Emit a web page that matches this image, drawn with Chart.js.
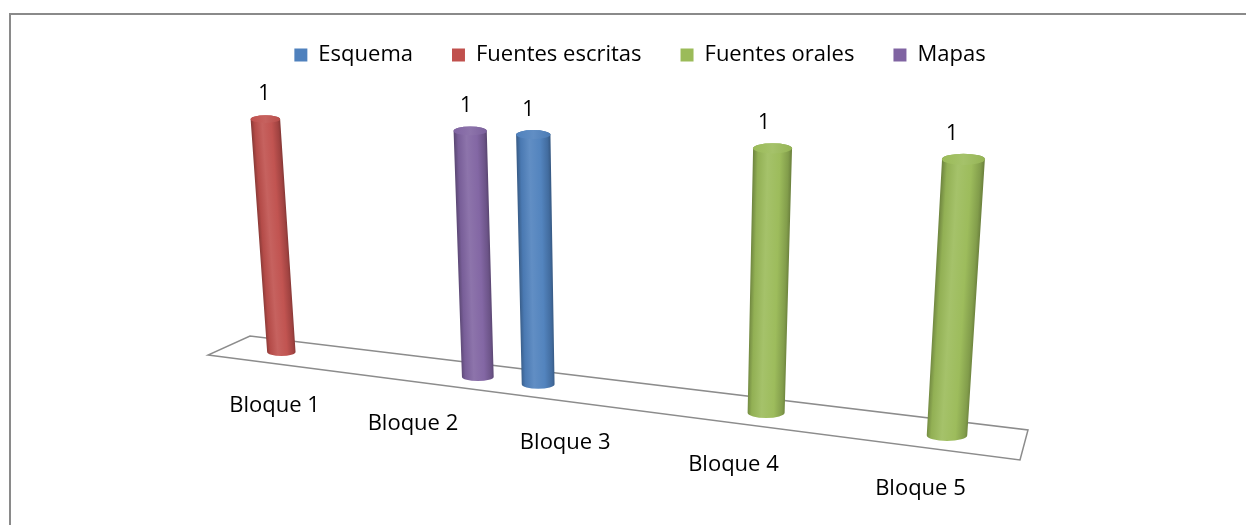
<!DOCTYPE html>
<html>
<head>
<meta charset="utf-8">
<script src="https://cdn.jsdelivr.net/npm/chart.js@4.4.0/dist/chart.umd.min.js"></script>
<style>
  html, body { margin: 0; padding: 0; background: #fff; overflow: hidden; }
  #wrap { position: relative; width: 1246px; height: 525px; }
</style>
</head>
<body>
<div id="wrap"><canvas id="chart"></canvas></div>
<script>
// data
var categories = ['Bloque 1', 'Bloque 2', 'Bloque 3', 'Bloque 4', 'Bloque 5'];
var seriesNames = ['Esquema', 'Fuentes escritas', 'Fuentes orales', 'Mapas'];
var esquema = [null, null, 1, null, null];
var fuentesEscritas = [1, null, null, null, null];
var fuentesOrales = [null, null, null, 1, 1];
var mapas = [null, 1, null, null, null];
var seriesColors = ['#4F81BD', '#C0504D', '#9BBB59', '#8064A2'];

var FONT = '"Open Sans", "DejaVu Sans", sans-serif';

// unit square -> quad (Heckbert). corners: (0,0), (1,0), (1,1), (0,1)
function quadMap(q) {
  var x0 = q[0][0], y0 = q[0][1], x1 = q[1][0], y1 = q[1][1];
  var x2 = q[2][0], y2 = q[2][1], x3 = q[3][0], y3 = q[3][1];
  var dx1 = x1 - x2, dx2 = x3 - x2, dx3 = x0 - x1 + x2 - x3;
  var dy1 = y1 - y2, dy2 = y3 - y2, dy3 = y0 - y1 + y2 - y3;
  var den = dx1 * dy2 - dx2 * dy1;
  var g = (dx3 * dy2 - dx2 * dy3) / den;
  var h = (dx1 * dy3 - dx3 * dy1) / den;
  var a = x1 - x0 + g * x1, b = x3 - x0 + h * x3, c = x0;
  var d = y1 - y0 + g * y1, e = y3 - y0 + h * y3, f = y0;
  return function(u, v) {
    var w = g * u + h * v + 1;
    return { x: (a * u + b * v + c) / w, y: (d * u + e * v + f) / w };
  };
}

// vertical plane through the middle of the floor (u along categories, v = value)
var plane = quadMap([[229, 345.5], [1024, 445], [1045, 164], [211, 116]]);
// floor (u along categories, w = depth, 0 front / 1 back)
var floor = quadMap([[208, 355], [1020, 460], [1028, 430], [250, 336]]);

function mix(hex, t) {
  // t < 0 darker, t > 0 lighter
  var n = parseInt(hex.slice(1), 16);
  var rgb = [(n >> 16) & 255, (n >> 8) & 255, n & 255].map(function(c) {
    return Math.round(t < 0 ? c * (1 + t) : c + (255 - c) * t);
  });
  return 'rgb(' + rgb.join(',') + ')';
}

function drawCylinder(ctx, color, pBL, pBR, pTL, pTR) {
  var bc = { x: (pBL.x + pBR.x) / 2, y: (pBL.y + pBR.y) / 2 };
  var tc = { x: (pTL.x + pTR.x) / 2, y: (pTL.y + pTR.y) / 2 };
  var brx = Math.abs(pBR.x - pBL.x) / 2, trx = Math.abs(pTR.x - pTL.x) / 2;
  var bry = brx * 0.28, trY = trx * 0.26;

  var ax = tc.x - bc.x, ay = tc.y - bc.y, len = Math.sqrt(ax * ax + ay * ay);
  var nx = -ay / len, ny = ax / len;
  if (nx < 0) { nx = -nx; ny = -ny; }
  var mx = (bc.x + tc.x) / 2, my = (bc.y + tc.y) / 2, r = (brx + trx) / 2;
  var grad = ctx.createLinearGradient(mx - nx * r, my - ny * r, mx + nx * r, my + ny * r);
  grad.addColorStop(0, mix(color, -0.28));
  grad.addColorStop(0.12, mix(color, -0.06));
  grad.addColorStop(0.38, mix(color, 0.1));
  grad.addColorStop(0.7, mix(color, 0.02));
  grad.addColorStop(0.92, mix(color, -0.16));
  grad.addColorStop(1, mix(color, -0.3));

  ctx.beginPath();
  ctx.moveTo(tc.x - trx, tc.y);
  ctx.lineTo(bc.x - brx, bc.y);
  ctx.ellipse(bc.x, bc.y, brx, bry, 0, Math.PI, 0, true);
  ctx.lineTo(tc.x + trx, tc.y);
  ctx.ellipse(tc.x, tc.y, trx, trY, 0, 0, Math.PI, true);
  ctx.closePath();
  ctx.fillStyle = grad;
  ctx.fill();

  var capGrad = ctx.createLinearGradient(tc.x - trx, tc.y, tc.x + trx, tc.y);
  capGrad.addColorStop(0, mix(color, 0.0));
  capGrad.addColorStop(0.5, mix(color, 0.1));
  capGrad.addColorStop(1, mix(color, -0.04));
  ctx.beginPath();
  ctx.ellipse(tc.x, tc.y, trx, trY, 0, 0, Math.PI * 2);
  ctx.fillStyle = capGrad;
  ctx.fill();
}

var perspectivePlugin = {
  id: 'perspective',
  beforeDraw: function(chart) {
    var ctx = chart.ctx;
    ctx.save();
    ctx.fillStyle = '#fff';
    ctx.fillRect(0, 0, chart.width, chart.height);
    // chart frame (only the top and left edges fall inside the picture)
    ctx.strokeStyle = '#8a8a8a';
    ctx.lineWidth = 2;
    ctx.strokeRect(10, 14, 1400, 700);
    ctx.restore();
  },
  beforeDatasetsDraw: function(chart) {
    var ctx = chart.ctx;
    var area = chart.chartArea;
    var xScale = chart.scales.x, yScale = chart.scales.y;
    var y0 = yScale.getPixelForValue(0), y1 = yScale.getPixelForValue(1);
    var W = area.right - area.left;
    function U(px) { return (px - area.left) / W; }
    function V(py) { return (y0 - py) / (y0 - y1); }

    ctx.save();
    // floor
    var c = [floor(0, 0), floor(1, 0), floor(1, 1), floor(0, 1)];
    ctx.beginPath();
    ctx.moveTo(c[0].x, c[0].y);
    for (var k = 1; k < 4; k++) ctx.lineTo(c[k].x, c[k].y);
    ctx.closePath();
    ctx.strokeStyle = '#8c8c8c';
    ctx.lineWidth = 1.5;
    ctx.stroke();

    // category labels under the front edge
    ctx.fillStyle = '#000';
    ctx.font = '22px ' + FONT;
    ctx.textAlign = 'center';
    ctx.textBaseline = 'middle';
    categories.forEach(function(lbl, i) {
      var p = floor(U(xScale.getPixelForValue(i)), 0);
      ctx.fillText(lbl, p.x + 2, p.y + 42);
    });

    // cylinders + value labels
    chart.data.datasets.forEach(function(ds, di) {
      var meta = chart.getDatasetMeta(di);
      meta.data.forEach(function(bar, i) {
        var val = ds.data[i];
        if (val === null || val === undefined) return;
        var p = bar.getProps(['x', 'y', 'width', 'base'], true);
        var uL = U(p.x - p.width / 2), uR = U(p.x + p.width / 2);
        var vB = V(p.base), vT = V(p.y);
        drawCylinder(ctx, seriesColors[di],
          plane(uL, vB), plane(uR, vB), plane(uL, vT), plane(uR, vT));
        var top = plane(U(p.x), vT);
        ctx.fillStyle = '#000';
        ctx.font = '21px ' + FONT;
        ctx.fillText(String(val), top.x - 0.015 * (top.x - 200), top.y - 25);
      });
    });
    ctx.restore();
    return false;
  }
};

function draw() {
  var data = [esquema, fuentesEscritas, fuentesOrales, mapas];
  new Chart(document.getElementById('chart'), {
    type: 'bar',
    data: {
      labels: categories,
      datasets: seriesNames.map(function(name, i) {
        return {
          label: name,
          data: data[i],
          backgroundColor: seriesColors[i],
          borderWidth: 0,
          categoryPercentage: 0.8,
          barPercentage: 1.07
        };
      })
    },
    options: {
      responsive: true,
      maintainAspectRatio: false,
      devicePixelRatio: 1,
      animation: false,
      events: [],
      layout: { padding: { left: 34, top: 5 } },
      plugins: {
        legend: {
          position: 'top',
          labels: {
            boxWidth: 13,
            boxHeight: 13,
            padding: 39,
            color: '#000',
            font: { family: FONT, size: 22 }
          }
        },
        tooltip: { enabled: false }
      },
      scales: {
        x: { display: false },
        y: { display: false, min: 0, max: 1 }
      }
    },
    plugins: [perspectivePlugin]
  });
}

if (document.fonts && document.fonts.load) {
  document.fonts.load('22px "Open Sans"').then(draw, draw);
} else {
  draw();
}
</script>
</body>
</html>
